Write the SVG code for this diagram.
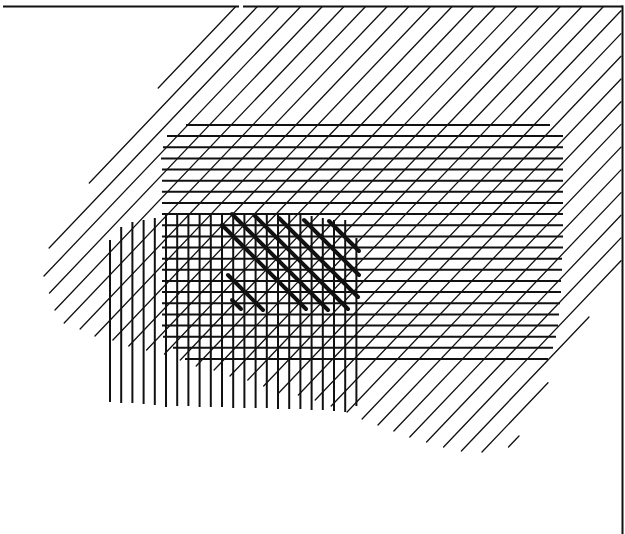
<svg xmlns="http://www.w3.org/2000/svg" width="625" height="534" viewBox="0 0 625 534">
<style>
.frame{stroke:#111;stroke-width:2;fill:none;stroke-linecap:butt}
.diag{stroke:#111;stroke-width:1.3;fill:none;stroke-linecap:round}
.hor{stroke:#111;stroke-width:2;fill:none;stroke-linecap:butt}
.ver{stroke:#111;stroke-width:2;fill:none;stroke-linecap:butt}
.thick{stroke:#111;stroke-width:4;fill:none;stroke-linecap:round}
</style>
<rect x="0" y="0" width="625" height="534" fill="#fff"/>
<g id="frame" class="frame">
<line x1="3" y1="6.5" x2="239" y2="6.5"/>
<line x1="243" y1="6.5" x2="623" y2="6.5"/>
<line x1="622.5" y1="5.5" x2="622.5" y2="534"/>
</g>
<g id="diagonals" class="diag">
<line x1="158.2" y1="88" x2="235.3" y2="7"/>
<line x1="89.3" y1="183" x2="256.9" y2="7"/>
<line x1="49.1" y1="248" x2="278.6" y2="7"/>
<line x1="44.0" y1="276" x2="300.2" y2="7"/>
<line x1="49.5" y1="293" x2="321.8" y2="7"/>
<line x1="55.0" y1="310" x2="343.5" y2="7"/>
<line x1="64.2" y1="323" x2="365.1" y2="7"/>
<line x1="80.1" y1="329" x2="386.7" y2="7"/>
<line x1="95.0" y1="336" x2="408.3" y2="7"/>
<line x1="112.9" y1="340" x2="430" y2="7"/>
<line x1="128.8" y1="346" x2="451.6" y2="7"/>
<line x1="146.6" y1="350" x2="473.2" y2="7"/>
<line x1="164.5" y1="354" x2="494.9" y2="7"/>
<line x1="180.3" y1="360" x2="516.5" y2="7"/>
<line x1="196.2" y1="366" x2="538.1" y2="7"/>
<line x1="214.1" y1="370" x2="559.8" y2="7"/>
<line x1="230.0" y1="376" x2="581.4" y2="7"/>
<line x1="247.8" y1="380" x2="603" y2="7"/>
<line x1="263.7" y1="386" x2="621" y2="10.8"/>
<line x1="278.7" y1="393" x2="621" y2="33.6"/>
<line x1="298.4" y1="395" x2="621" y2="56.3"/>
<line x1="315.2" y1="400" x2="621" y2="79.0"/>
<line x1="331.2" y1="406" x2="621" y2="101.7"/>
<line x1="347.1" y1="412" x2="621" y2="124.4"/>
<line x1="362.1" y1="419" x2="621" y2="147.1"/>
<line x1="378.0" y1="425" x2="621" y2="169.9"/>
<line x1="393.9" y1="431" x2="621" y2="192.6"/>
<line x1="409.8" y1="437" x2="621" y2="215.3"/>
<line x1="426.6" y1="442" x2="621" y2="237.9"/>
<line x1="443.6" y1="447" x2="621" y2="260.7"/>
<line x1="461.4" y1="451" x2="589" y2="317"/>
<line x1="482.0" y1="452" x2="548" y2="382.7"/>
<line x1="508.5" y1="447" x2="519" y2="436"/>
</g>
<g id="horizontals" class="hor">
<line x1="186" y1="125" x2="550" y2="125"/>
<line x1="167" y1="136.1" x2="563" y2="136.1"/>
<line x1="163" y1="147.3" x2="563" y2="147.3"/>
<line x1="161" y1="158.4" x2="563" y2="158.4"/>
<line x1="162" y1="169.6" x2="563" y2="169.6"/>
<line x1="162" y1="180.7" x2="563" y2="180.7"/>
<line x1="162" y1="191.8" x2="563" y2="191.8"/>
<line x1="162" y1="203" x2="563" y2="203"/>
<line x1="162" y1="214.1" x2="563" y2="214.1"/>
<line x1="162" y1="225.3" x2="563" y2="225.3"/>
<line x1="162" y1="236.4" x2="563" y2="236.4"/>
<line x1="162" y1="247.5" x2="563" y2="247.5"/>
<line x1="162" y1="258.7" x2="562" y2="258.7"/>
<line x1="162" y1="269.8" x2="562" y2="269.8"/>
<line x1="162" y1="281" x2="561" y2="281"/>
<line x1="162" y1="292.1" x2="561" y2="292.1"/>
<line x1="162" y1="303.2" x2="560" y2="303.2"/>
<line x1="162" y1="314.4" x2="559" y2="314.4"/>
<line x1="162" y1="325.5" x2="558" y2="325.5"/>
<line x1="163" y1="336.7" x2="556" y2="336.7"/>
<line x1="173" y1="347.8" x2="553" y2="347.8"/>
<line x1="185" y1="358.9" x2="548" y2="358.9"/>
</g>
<g id="verticals" class="ver">
<line x1="110" y1="240" x2="110" y2="402"/>
<line x1="121.2" y1="227" x2="121.2" y2="403"/>
<line x1="132.4" y1="222" x2="132.4" y2="403"/>
<line x1="143.6" y1="220" x2="143.6" y2="404"/>
<line x1="154.8" y1="218" x2="154.8" y2="405"/>
<line x1="166" y1="214" x2="166" y2="407"/>
<line x1="177.2" y1="214" x2="177.2" y2="406"/>
<line x1="188.4" y1="214" x2="188.4" y2="406"/>
<line x1="199.6" y1="214" x2="199.6" y2="407"/>
<line x1="210.8" y1="214" x2="210.8" y2="407"/>
<line x1="222" y1="214" x2="222" y2="407"/>
<line x1="233.2" y1="214" x2="233.2" y2="408"/>
<line x1="244.4" y1="214" x2="244.4" y2="408"/>
<line x1="255.6" y1="214" x2="255.6" y2="408"/>
<line x1="266.8" y1="214" x2="266.8" y2="408"/>
<line x1="278" y1="214" x2="278" y2="409"/>
<line x1="289.2" y1="214" x2="289.2" y2="409"/>
<line x1="300.4" y1="214" x2="300.4" y2="409"/>
<line x1="311.6" y1="216" x2="311.6" y2="410"/>
<line x1="322.8" y1="218" x2="322.8" y2="410"/>
<line x1="334" y1="220" x2="334" y2="411"/>
<line x1="345.2" y1="220" x2="345.2" y2="412"/>
<line x1="356.4" y1="238" x2="356.4" y2="406"/>
</g>
<g id="thick-diagonals" class="thick">
<line x1="329" y1="221" x2="359" y2="251"/>
<line x1="304" y1="220" x2="359" y2="275"/>
<line x1="279" y1="218" x2="358" y2="297"/>
<line x1="255" y1="216" x2="348" y2="309"/>
<line x1="232" y1="214" x2="328" y2="310"/>
<line x1="222" y1="225" x2="306" y2="309"/>
<line x1="228" y1="275" x2="263" y2="310"/>
<line x1="232" y1="300" x2="241" y2="309"/>
</g>
</svg>
